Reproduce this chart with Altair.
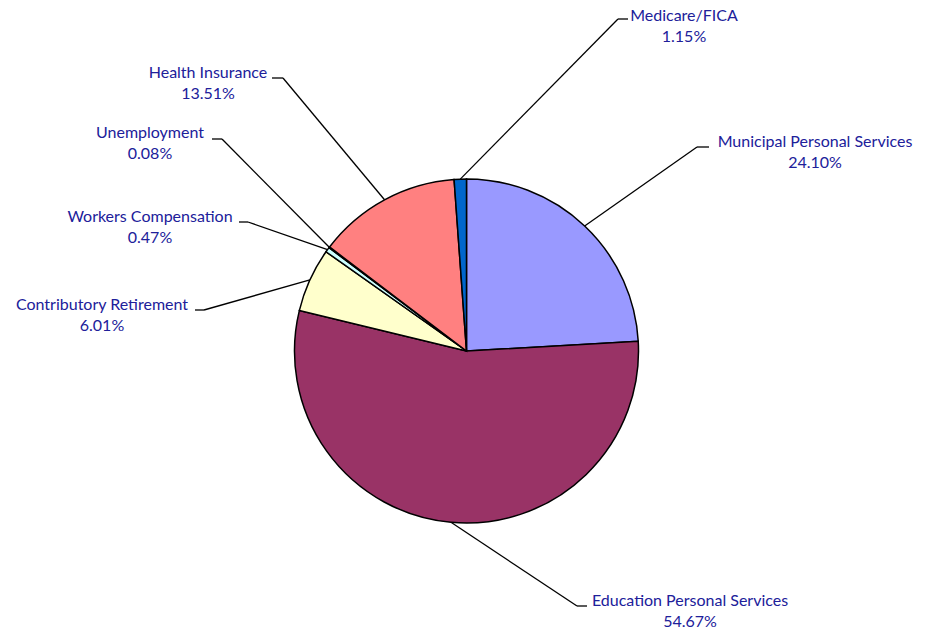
import math
import altair as alt
import pandas as pd

# ---- data ----
categories = ["Municipal Personal Services", "Education Personal Services",
              "Contributory Retirement", "Workers Compensation", "Unemployment",
              "Health Insurance", "Medicare/FICA"]
values = [24.10, 54.67, 6.01, 0.47, 0.08, 13.51, 1.15]
colors = ["#9999FF", "#993366", "#FFFFCC", "#CCFFFF", "#660066", "#FF8080", "#0066CC"]

# ---- layout (page pixels) ----
OFF = 8
CX, CY, R = 466.5 - OFF, 351 - OFF, 172
label_cx = [815, 690, 102, 150, 150, 208, 684]
label_cy = [142, 601, 305, 217, 133, 73, 16]
seg_x_text = [709, 587, 195, 239, 212, 272, 628]   # end of short horizontal next to text
seg_x_elbow = [697, 577, 204, 248, 222, 283, 618]  # elbow where diagonal starts
seg_y = [147, 606, 310, 222, 139, 78, 19]
LINE2 = 21

total = sum(values)
rows, segs = [], []
cum = 0.0
for i, (c, v) in enumerate(zip(categories, values)):
    mid = (cum + v / 2) / total * 2 * math.pi
    cum += v
    ex = CX + R * math.sin(mid)
    ey = CY - R * math.cos(mid)
    rows.append({"idx": i, "cat": c, "value": v, "pct": f"{v:.2f}%",
                 "lx": label_cx[i] - OFF, "ly": label_cy[i] - OFF,
                 "ly2": label_cy[i] - OFF + LINE2})
    segs.append({"cat": c, "x": ex, "y": ey, "x2": seg_x_elbow[i] - OFF, "y2": seg_y[i] - OFF})
    segs.append({"cat": c, "x": seg_x_elbow[i] - OFF, "y": seg_y[i] - OFF,
                 "x2": seg_x_text[i] - OFF, "y2": seg_y[i] - OFF})

df = pd.DataFrame(rows)
sdf = pd.DataFrame(segs)

FONT = "Lato"
FS = 16
TXT = "#20209a"

pie = alt.Chart(df).mark_arc(outerRadius=R, stroke="black", strokeWidth=1.5).encode(
    theta=alt.Theta("value:Q", stack=True),
    order=alt.Order("idx:Q"),
    color=alt.Color("cat:N", scale=alt.Scale(domain=categories, range=colors), legend=None),
    x=alt.value(CX), y=alt.value(CY),
)

leaders = alt.Chart(sdf).mark_rule(color="black", strokeWidth=1.3).encode(
    x=alt.X("x:Q", scale=None, axis=None),
    y=alt.Y("y:Q", scale=None, axis=None),
    x2="x2:Q", y2="y2:Q",
)

names = alt.Chart(df).mark_text(font=FONT, fontSize=FS, color=TXT, align="center",
                                baseline="middle").encode(
    x=alt.X("lx:Q", scale=None, axis=None),
    y=alt.Y("ly:Q", scale=None, axis=None),
    text="cat:N",
)
pcts = alt.Chart(df).mark_text(font=FONT, fontSize=FS, color=TXT, align="center",
                               baseline="middle").encode(
    x=alt.X("lx:Q", scale=None, axis=None),
    y=alt.Y("ly2:Q", scale=None, axis=None),
    text="pct:N",
)

chart = alt.layer(leaders, pie, names, pcts).properties(
    width=910, height=624, padding=0, autosize=alt.AutoSizeParams(type="none"),
    background="white",
).configure_view(stroke=None)

chart.save("out.html", embed_options={"renderer": "svg", "actions": False})
